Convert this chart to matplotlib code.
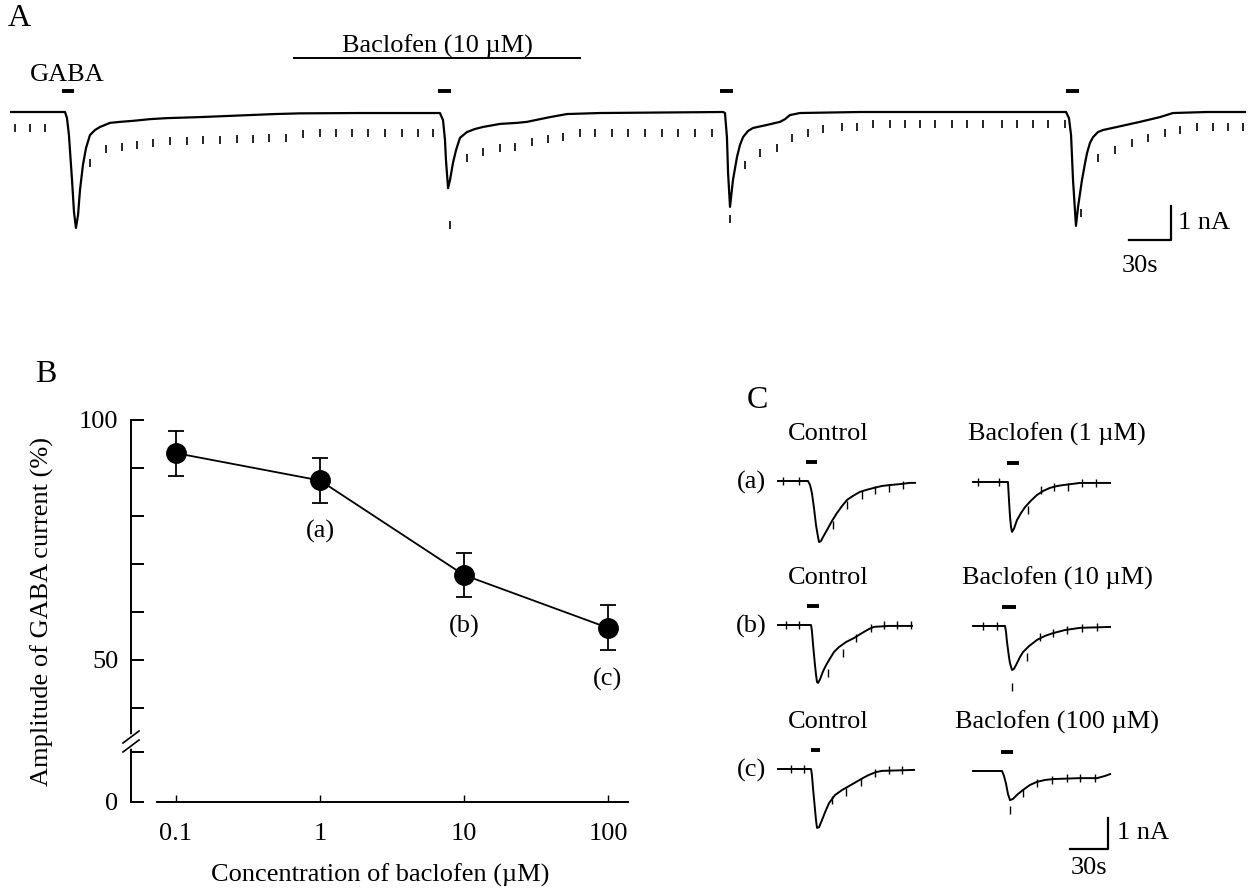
import numpy as np
import matplotlib.pyplot as plt

plt.rcParams['font.family'] = ['Liberation Serif', 'DejaVu Serif']
plt.rcParams['font.size'] = 19

W, H = 1252, 890

# ---------------- panel A : whole-cell current (nA) vs time (s)
trace_t = [0, 39.3, 40.7, 42.1, 44.3, 45.7, 47.1, 48.6, 50.0, 52.1, 54.3, 57.1, 60.7, 64.3, 71.4,
           78.6, 87.9, 100.0, 112.1, 135.7, 171.4, 189.3, 207.1, 250.0,
           307.1, 309.3, 310.7, 311.4, 312.9, 314.3, 316.4, 318.6, 321.4, 326.4, 332.1, 337.9,
           350.0, 362.1, 369.3, 378.6, 385.7, 397.9, 421.4, 509.3,
           510.7, 512.1, 512.9, 514.3, 516.4, 519.3, 521.4, 523.6, 527.1, 530.7, 540.7, 550.0,
           553.6, 557.1, 564.3, 607.1,
           754.3, 756.4, 757.9, 759.3, 761.4, 762.9, 765.7, 767.9, 769.3, 771.4, 773.6, 777.1,
           780.7, 790.7, 807.1, 821.4, 830.7, 855.0, 882.1]
trace_i = [0, 0, -0.18, -0.68, -2.0, -2.94, -3.41, -3.03, -2.29, -1.56, -1.06, -0.68, -0.53, -0.44, -0.32,
           -0.29, -0.26, -0.21, -0.18, -0.15, -0.09, -0.06, -0.04, -0.03,
           -0.03, -0.24, -0.82, -1.41, -2.24, -2.0, -1.5, -1.12, -0.76, -0.59, -0.5, -0.44,
           -0.35, -0.32, -0.29, -0.21, -0.15, -0.06, -0.03, 0,
           -0.03, -0.74, -1.79, -2.79, -2.0, -1.32, -0.97, -0.74, -0.56, -0.47, -0.38, -0.29,
           -0.21, -0.09, -0.03, 0,
           0, -0.18, -0.68, -2.0, -3.35, -2.79, -2.0, -1.5, -1.21, -0.91, -0.74, -0.59,
           -0.53, -0.44, -0.29, -0.15, -0.03, 0, 0]

# responses to the test voltage pulses
pulse_t = [3.6, 14.3, 25.0,
           57.1, 68.6, 80.0, 90.7, 102.1, 114.3, 126.4, 137.9, 150.0, 162.1, 173.6, 185.0, 197.1,
           209.3, 221.4, 232.9, 244.3, 255.7, 267.9, 280.0, 291.4, 302.1,
           314.3,
           326.4, 337.9, 350.0, 360.7, 372.9, 384.3, 395.0, 407.1, 417.9, 430.0, 441.4, 453.6,
           465.7, 477.1, 489.3, 501.4,
           514.3,
           525.0, 535.7, 547.9, 558.6, 570.0, 580.7, 594.3, 605.0, 616.4, 628.6, 639.3, 650.0,
           660.7, 672.9, 683.6, 695.0, 708.6, 719.3, 730.7, 741.4, 753.6,
           765.0,
           777.1, 789.3, 801.4, 812.9, 825.0, 835.7, 847.9, 859.3, 870.0, 880.7]
pulse_i = [-0.47, -0.47, -0.47,
           -1.50, -1.09, -1.03, -0.97, -0.91, -0.85, -0.85, -0.82, -0.82, -0.79, -0.79, -0.76, -0.76,
           -0.65, -0.62, -0.62, -0.62, -0.62, -0.62, -0.62, -0.62, -0.62,
           -3.32,
           -1.35, -1.18, -1.06, -1.03, -0.88, -0.79, -0.74, -0.62, -0.62, -0.62, -0.62, -0.62,
           -0.62, -0.62, -0.62, -0.62,
           -3.15,
           -1.56, -1.21, -1.06, -0.76, -0.62, -0.50, -0.44, -0.44, -0.35, -0.35, -0.35, -0.35,
           -0.35, -0.35, -0.35, -0.35, -0.35, -0.35, -0.35, -0.35, -0.35,
           -2.97,
           -1.35, -1.12, -0.91, -0.76, -0.62, -0.53, -0.44, -0.44, -0.44, -0.44]

gaba_start = [37.1, 305.7, 507.1, 754.3]
gaba_stop = [45.7, 315.0, 516.4, 763.6]
baclofen_start, baclofen_stop = 202.1, 407.9

# ---------------- panel B : dose response
conc = [0.1, 1, 10, 100]
amp = [93.1, 87.4, 67.7, 56.7]
amp_err = [4.7, 4.7, 4.5, 4.7]
point_tags = ['', '(a)', '(b)', '(c)']

# ---------------- panel C : example traces (time s, current nA, from trace start)
ctrl_a_t = [0, 23.7, 25.3, 26.8, 28.4, 30.0, 31.6, 32.4, 33.9, 35.5, 38.7, 42.6, 46.6, 50.5, 54.5,
            59.2, 64.7, 69.5, 75.0, 82.1, 88.4, 96.3, 104.2, 108.2]
ctrl_a_i = [0, 0, -0.13, -0.39, -0.87, -1.42, -1.81, -1.97, -1.94, -1.81, -1.58, -1.29, -1.03, -0.81, -0.61,
            -0.48, -0.35, -0.29, -0.23, -0.16, -0.13, -0.10, -0.06, -0.06]
ctrl_a_pt = [3.9, 16.6, 43.4, 54.5, 66.3, 76.6, 87.6, 98.7]
ctrl_a_pi = [0, 0, -1.42, -0.77, -0.45, -0.29, -0.23, -0.13]

bac1_t = [0, 27.6, 28.4, 29.2, 30.0, 30.8, 32.4, 34.7, 37.9, 41.1, 45.8, 50.5, 55.3, 60.8, 66.3, 71.1,
          84.5, 108.2]
bac1_i = [0, 0, -0.58, -1.1, -1.45, -1.61, -1.5, -1.23, -1.0, -0.81, -0.6, -0.42, -0.29, -0.19, -0.13, -0.10,
          -0.03, -0.03]
bac1_pt = [3.9, 20.5, 43.4, 53.7, 64.0, 75.0, 86.1, 97.1]
bac1_pi = [0, 0, -0.90, -0.26, -0.16, -0.16, -0.03, -0.03]

ctrl_b_t = [0, 26.1, 26.8, 27.6, 29.2, 30.0, 30.8, 31.6, 33.2, 35.5, 37.9, 40.3, 44.2, 48.2, 53.7,
            60.0, 66.3, 71.8, 75.8, 87.6, 105.8]
ctrl_b_i = [0, 0, -0.2, -0.6, -1.3, -1.6, -1.84, -1.87, -1.75, -1.5, -1.3, -1.13, -0.87, -0.71, -0.55,
            -0.42, -0.26, -0.13, -0.06, -0.03, -0.03]
ctrl_b_pt = [6.3, 16.6, 39.5, 51.3, 61.6, 73.4, 83.7, 93.9, 105.0]
ctrl_b_pi = [0, 0, -1.55, -0.9, -0.42, -0.1, 0, 0, 0]

bac10_t = [0, 25.3, 26.1, 26.8, 28.4, 29.2, 30.8, 32.4, 34.7, 37.1, 39.5, 44.2, 50.5, 56.8, 63.2,
           72.6, 84.5, 108.2]
bac10_i = [0, 0, -0.2, -0.5, -1.0, -1.2, -1.42, -1.38, -1.2, -1.0, -0.84, -0.65, -0.45, -0.32, -0.23,
           -0.13, -0.06, -0.03]
bac10_pt = [7.9, 18.9, 30.8, 42.6, 52.9, 63.2, 74.2, 86.1, 97.9]
bac10_pi = [0, 0, -1.97, -1.0, -0.35, -0.23, -0.13, -0.06, -0.03]

ctrl_c_t = [0, 26.1, 26.8, 27.6, 29.2, 30.0, 30.8, 32.4, 34.7, 37.1, 40.3, 45.0, 50.5, 56.1, 61.6,
            67.1, 71.8, 77.4, 82.1, 107.4]
ctrl_c_i = [0, 0, -0.2, -0.6, -1.3, -1.65, -1.9, -1.88, -1.65, -1.4, -1.1, -0.84, -0.68, -0.55, -0.42,
            -0.29, -0.19, -0.1, -0.06, -0.03]
ctrl_c_pt = [10.3, 20.5, 42.6, 53.7, 65.5, 76.6, 87.6, 97.9]
ctrl_c_pi = [0, 0, -1.0, -0.74, -0.42, -0.13, -0.03, -0.03]

bac100_t = [0, 22.9, 24.5, 26.1, 27.6, 29.2, 31.6, 34.7, 39.5, 45.0, 50.5, 56.8, 63.2, 84.5, 97.9,
            104.2, 108.2]
bac100_i = [0, 0, -0.16, -0.42, -0.74, -0.94, -0.9, -0.77, -0.61, -0.45, -0.35, -0.29, -0.26, -0.23, -0.23,
            -0.16, -0.1]
bac100_pt = [29.2, 39.5, 50.5, 62.4, 74.2, 84.5, 96.3]
bac100_pi = [-1.26, -0.71, -0.39, -0.29, -0.23, -0.23, -0.23]

c_gaba_start = [22.1, 26.8, 22.9, 22.9, 26.0, 22.1]
c_gaba_stop = [30.8, 36.3, 32.4, 33.9, 33.2, 31.6]
c_titles = ['Control', 'Baclofen (1 µM)', 'Control', 'Baclofen (10 µM)', 'Control', 'Baclofen (100 µM)']
c_rows = ['(a)', '(b)', '(c)']


fig = plt.figure(figsize=(W / 100, H / 100), dpi=100)


def px_axes(left, top, width, height):
    # place an axes using pixel coordinates measured from the top-left corner
    return fig.add_axes([left / W, 1 - (top + height) / H, width / W, height / H])


def fig_text(x, y, s, **kw):
    return fig.text(x / W, 1 - y / H, s, ha=kw.pop('ha', 'center'), va=kw.pop('va', 'center'), **kw)


# ======== A
SEC_A = 30 / 42      # s per pixel
NA_A = 34            # pixel per nA
axA = px_axes(10, 40, 1240, 240)
axA.set_xlim(0, 1240 * SEC_A)
axA.set_ylim(-(280 - 112) / NA_A, (112 - 40) / NA_A)
axA.axis('off')
axA.plot(trace_t, trace_i, color='k', lw=1.6, solid_joinstyle='round')
pi = np.array(pulse_i)
axA.vlines(pulse_t, pi - 0.11, pi + 0.11, color='k', lw=1.2)
axA.hlines([0.62] * 4, gaba_start, gaba_stop, color='k', lw=2.8)
axA.hlines(1.59, baclofen_start, baclofen_stop, color='k', lw=1.4)
axA.text((baclofen_start + baclofen_stop) / 2, 1.93, 'Baclofen (10 µM)', ha='center', va='center')
axA.text(41.0, 1.09, 'GABA', ha='center', va='center')
# scale bar 30 s / 1 nA
axA.plot([799.3, 829.3, 829.3], [-3.76, -3.76, -2.76], color='k', lw=1.6)
axA.text(834.5, -3.26, '1 nA', ha='left', va='center')
axA.text(807.0, -4.52, '30s', ha='center', va='center')
fig_text(19, 19, 'A', size=23)

# ======== B
axB = px_axes(131, 420, 497, 382)
axB.set_xscale('log')
axB.set_xlim(10 ** (-1 - 45 / 144), 10 ** (2 + 20 / 144))
y_zero = 50 - 142 / 4.8
axB.set_ylim(y_zero, 100)
axB.errorbar(conc, amp, yerr=amp_err, fmt='-o', color='k', ms=14, lw=1.3,
             capsize=5.5, capthick=1.3, elinewidth=1.3)
for c, a, tag in zip(conc, amp, point_tags):
    if tag:
        axB.annotate(tag, (c, a), xytext=(0, -37), textcoords='offset points',
                     ha='center', va='center')
for s in ['top', 'right']:
    axB.spines[s].set_visible(False)
for s in ['left', 'bottom']:
    axB.spines[s].set_linewidth(1.4)
axB.spines['bottom'].set_bounds(10 ** (-1 - 19 / 144), 10 ** (2 + 20 / 144))
axB.set_xticks(conc)
axB.set_xticklabels(['0.1', '1', '10', '100'])
axB.xaxis.set_minor_locator(plt.NullLocator())
axB.set_yticks([y_zero, 50 - 92 / 4.8, 40, 50, 60, 70, 80, 90, 100])
axB.set_yticklabels(['0', '', '', '50', '', '', '', '', '100'])
axB.tick_params(axis='y', direction='in', length=9, width=1.4, pad=9)
axB.tick_params(axis='x', direction='in', length=5, width=1.0, pad=15)
# axis break marks
tr = axB.transAxes
gap_lo, gap_hi = (802 - 746) / 382, (802 - 737) / 382
axB.plot([0, 0], [gap_lo, gap_hi], color='w', lw=4, transform=tr, clip_on=False, zorder=5)
for off in (0, 9):
    axB.plot([-8 / 497, 8 / 497], [(802 - 752 + off) / 382, (802 - 740 + off) / 382],
             color='k', lw=1.2, transform=tr, clip_on=False, zorder=6)
fig_text(42, 611, 'Amplitude of GABA current (%)', rotation=90)
fig_text(380, 875, 'Concentration of baclofen (µM)')
fig_text(46, 374, 'B', size=23)

# ======== C
SEC_C = 30 / 38
NA_C = 31
c_traces = [(ctrl_a_t, ctrl_a_i, ctrl_a_pt, ctrl_a_pi), (bac1_t, bac1_i, bac1_pt, bac1_pi),
            (ctrl_b_t, ctrl_b_i, ctrl_b_pt, ctrl_b_pi), (bac10_t, bac10_i, bac10_pt, bac10_pi),
            (ctrl_c_t, ctrl_c_i, ctrl_c_pt, ctrl_c_pi), (bac100_t, bac100_i, bac100_pt, bac100_pi)]
col_x0 = [778, 973]
row_y0 = [(481, 482), (625, 626), (769, 771)]
axes_c = []
for k, (t, i, pt, pv) in enumerate(c_traces):
    r, c = divmod(k, 2)
    x0, y0 = col_x0[c], row_y0[r][c]
    ax = px_axes(x0 - 10, y0 - 40, 170, 110)
    ax.set_xlim(-10 * SEC_C, 160 * SEC_C)
    ax.set_ylim(-70 / NA_C, 40 / NA_C)
    ax.axis('off')
    ax.plot(t, i, color='k', lw=1.4, solid_joinstyle='round')
    pv = np.array(pv)
    ax.vlines(pt, pv - 0.13, pv + 0.13, color='k', lw=1.0)
    ax.hlines(0.6, c_gaba_start[k], c_gaba_stop[k], color='k', lw=2.8)
    fig_text(828 if c == 0 else 1057, row_y0[r][0] - 47, c_titles[k])
    if c == 0:
        fig_text(751, y0 + 1, c_rows[r])
    axes_c.append(ax)

axc = axes_c[-1]
axc.plot([76.6, 106.6, 106.6], [-2.52, -2.52, -1.52], color='k', lw=1.6, clip_on=False)
axc.text(114.0, -2.0, '1 nA', ha='left', va='center', clip_on=False)
axc.text(91.6, -3.13, '30s', ha='center', va='center', clip_on=False)
fig_text(757, 400, 'C', size=23)

fig.savefig('out.png', dpi=100, facecolor='white')
